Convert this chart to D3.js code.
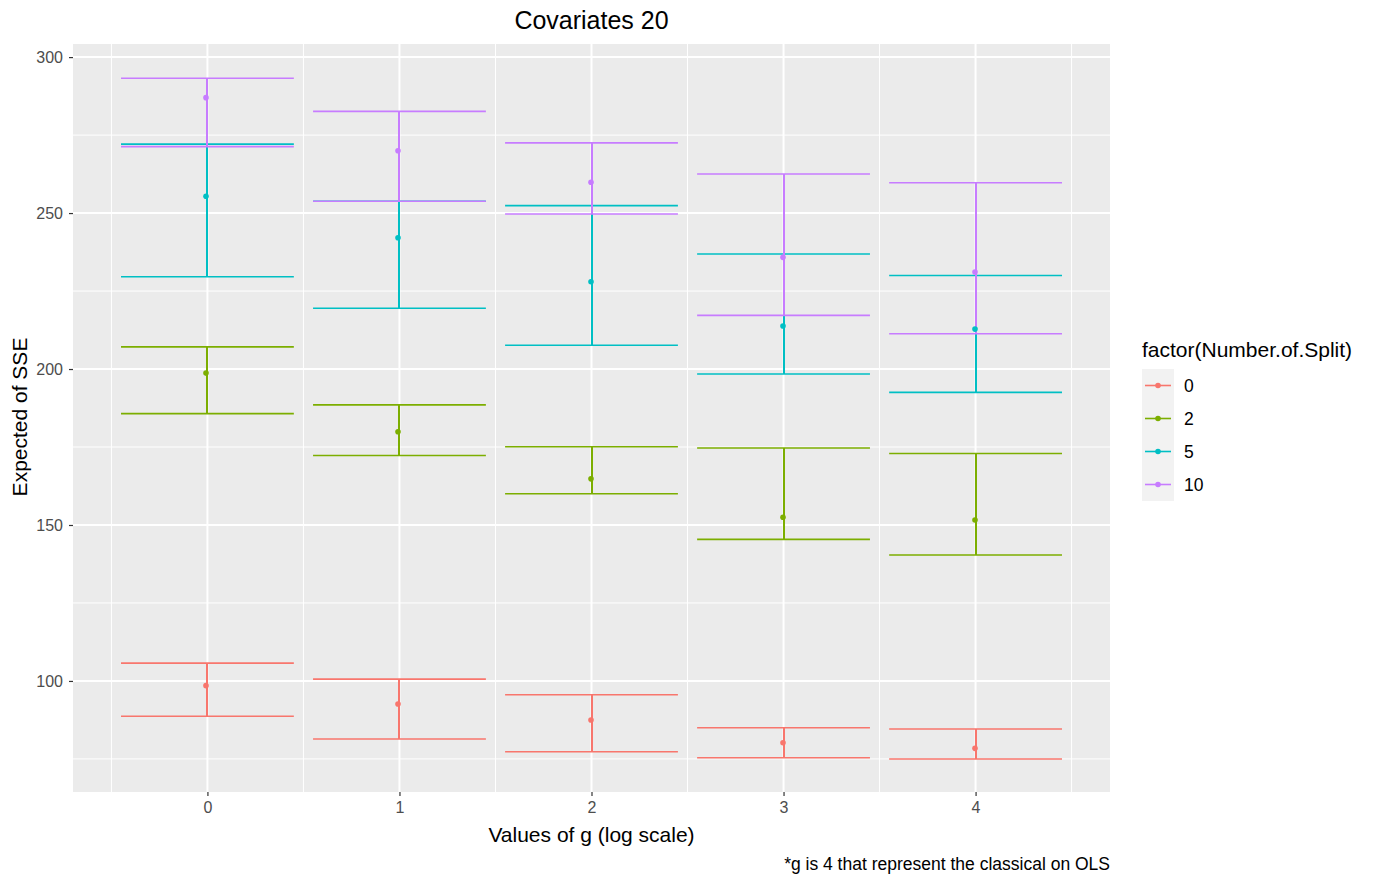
<!DOCTYPE html>
<html>
<head>
<meta charset="utf-8">
<script src="https://cdn.jsdelivr.net/npm/d3@7"></script>
<style>
  body { margin: 0; background: #fff; }
  text { font-family: "Liberation Sans", Arial, sans-serif; }
</style>
</head>
<body>
<div id="chart"></div>
<script>
// Data
const gValues = [0, 1, 2, 3, 4];
const splits = ['0', '2', '5', '10'];
const splitColors = ['#F8766D', '#7CAE00', '#00BFC4', '#C77CFF'];

// per split, per g value
const meanSSE = {
    '0':  [98.5, 92.6, 87.5, 80.2, 78.4],
    '2':  [198.7, 179.9, 164.8, 152.5, 151.6],
    '5':  [255.4, 242.1, 228.0, 213.8, 212.8],
    '10': [287.0, 270.0, 259.9, 235.8, 231.1]
};
const lowerSSE = {
    '0':  [88.7, 81.4, 77.3, 75.4, 75.0],
    '2':  [185.7, 172.3, 160.0, 145.4, 140.4],
    '5':  [229.6, 219.5, 207.6, 198.4, 192.5],
    '10': [271.3, 253.8, 249.7, 217.2, 211.3]
};
const upperSSE = {
    '0':  [105.7, 100.6, 95.6, 85.0, 84.6],
    '2':  [207.1, 188.5, 175.1, 174.7, 172.9],
    '5':  [272.1, 253.8, 252.4, 236.9, 230.0],
    '10': [293.2, 282.6, 272.5, 262.5, 259.7]
};

const yTicks = [100, 150, 200, 250, 300];
const yMinor = [75, 125, 175, 225, 275];
const xMinor = [-0.5, 0.5, 1.5, 2.5, 3.5, 4.5];

const W = 1374, H = 881;
const panel = { left: 73, right: 1110, top: 44, bottom: 792 };

const svg = d3.select('#chart').append('svg')
    .attr('width', W)
    .attr('height', H);

const x = d3.scaleLinear().domain([-0.7, 4.7]).range([panel.left, panel.right]);
const y = d3.scaleLinear().domain([64.4, 304.2]).range([panel.bottom, panel.top]);
const color = d3.scaleOrdinal().domain(splits).range(splitColors);

// panel background
svg.append('rect')
    .attr('x', panel.left)
    .attr('y', panel.top)
    .attr('width', panel.right - panel.left)
    .attr('height', panel.bottom - panel.top)
    .attr('fill', '#EBEBEB');

// grid lines
const grid = svg.append('g');
grid.selectAll('.ymin').data(yMinor).enter().append('line')
    .attr('x1', panel.left).attr('x2', panel.right)
    .attr('y1', d => y(d)).attr('y2', d => y(d))
    .attr('stroke', '#fff').attr('stroke-width', 1);
grid.selectAll('.xmin').data(xMinor).enter().append('line')
    .attr('y1', panel.top).attr('y2', panel.bottom)
    .attr('x1', d => x(d)).attr('x2', d => x(d))
    .attr('stroke', '#fff').attr('stroke-width', 1);
grid.selectAll('.ymaj').data(yTicks).enter().append('line')
    .attr('x1', panel.left).attr('x2', panel.right)
    .attr('y1', d => y(d)).attr('y2', d => y(d))
    .attr('stroke', '#fff').attr('stroke-width', 2);
grid.selectAll('.xmaj').data(gValues).enter().append('line')
    .attr('y1', panel.top).attr('y2', panel.bottom)
    .attr('x1', d => x(d)).attr('x2', d => x(d))
    .attr('stroke', '#fff').attr('stroke-width', 2);

// axes
const yAxis = d3.axisLeft(y).tickValues(yTicks).tickSize(4).tickPadding(6);
const xAxis = d3.axisBottom(x).tickValues(gValues).tickFormat(d3.format('d')).tickSize(4).tickPadding(6);

const gy = svg.append('g')
    .attr('transform', `translate(${panel.left},0)`)
    .call(yAxis);
const gx = svg.append('g')
    .attr('transform', `translate(0,${panel.bottom})`)
    .call(xAxis);
[gy, gx].forEach(g => {
    g.select('.domain').remove();
    g.selectAll('.tick line').attr('stroke', '#333333').attr('stroke-width', 1.2);
    g.selectAll('.tick text')
        .attr('fill', '#4D4D4D')
        .style('font-size', '16px')
        .style('font-family', '"Liberation Sans", Arial, sans-serif');
});

// error bars, drawn group by group like ggplot
const halfWidth = 0.45;
const bars = [];
splits.forEach(s => {
    gValues.forEach((g, i) => {
        bars.push({ split: s, g: g, lo: lowerSSE[s][i], hi: upperSSE[s][i], mean: meanSSE[s][i] });
    });
});

// snap the stem to whole pixels so overlapping stems don't blend
const stemX = g => Math.round(x(g));

const ebar = svg.append('g');
bars.forEach(d => {
    const c = color(d.split);
    ebar.append('line')
        .attr('x1', x(d.g - halfWidth)).attr('x2', x(d.g + halfWidth))
        .attr('y1', y(d.hi)).attr('y2', y(d.hi))
        .attr('stroke', c).attr('stroke-width', 1.6);
    ebar.append('line')
        .attr('x1', x(d.g - halfWidth)).attr('x2', x(d.g + halfWidth))
        .attr('y1', y(d.lo)).attr('y2', y(d.lo))
        .attr('stroke', c).attr('stroke-width', 1.6);
    ebar.append('line')
        .attr('x1', stemX(d.g)).attr('x2', stemX(d.g))
        .attr('y1', y(d.hi)).attr('y2', y(d.lo))
        .attr('stroke', c).attr('stroke-width', 2);
});

// points
svg.append('g').selectAll('circle')
    .data(bars)
    .enter()
    .append('circle')
    .attr('cx', d => stemX(d.g) - 1)
    .attr('cy', d => y(d.mean))
    .attr('r', 2.8)
    .attr('fill', d => color(d.split));

// titles
svg.append('text')
    .attr('x', (panel.left + panel.right) / 2)
    .attr('y', 29)
    .attr('text-anchor', 'middle')
    .style('font-size', '25px')
    .attr('fill', '#000')
    .text('Covariates 20');

svg.append('text')
    .attr('transform', `translate(27,${(panel.top + panel.bottom) / 2 - 1}) rotate(-90)`)
    .attr('text-anchor', 'middle')
    .style('font-size', '21px')
    .attr('fill', '#000')
    .text('Expected of SSE');

svg.append('text')
    .attr('x', (panel.left + panel.right) / 2)
    .attr('y', 842)
    .attr('text-anchor', 'middle')
    .style('font-size', '21px')
    .attr('fill', '#000')
    .text('Values of g (log scale)');

svg.append('text')
    .attr('x', panel.right)
    .attr('y', 870)
    .attr('text-anchor', 'end')
    .style('font-size', '17.5px')
    .attr('fill', '#000')
    .text('*g is 4 that represent the classical on OLS');

// legend
const legend = svg.append('g').attr('transform', 'translate(1142,0)');
legend.append('text')
    .attr('x', 0)
    .attr('y', 357)
    .style('font-size', '21px')
    .attr('fill', '#000')
    .text('factor(Number.of.Split)');

const keyTop = 369, keyH = 33;
splits.forEach((s, i) => {
    const ky = keyTop + i * keyH;
    legend.append('rect')
        .attr('x', 0).attr('y', ky)
        .attr('width', 32).attr('height', keyH)
        .attr('fill', '#F2F2F2');
    legend.append('line')
        .attr('x1', 3).attr('x2', 29)
        .attr('y1', ky + keyH / 2).attr('y2', ky + keyH / 2)
        .attr('stroke', color(s)).attr('stroke-width', 1.6);
    legend.append('circle')
        .attr('cx', 16).attr('cy', ky + keyH / 2)
        .attr('r', 2.8)
        .attr('fill', color(s));
    legend.append('text')
        .attr('x', 42)
        .attr('y', ky + keyH / 2 + 6)
        .style('font-size', '17.5px')
        .attr('fill', '#000')
        .text(s);
});
</script>
</body>
</html>
